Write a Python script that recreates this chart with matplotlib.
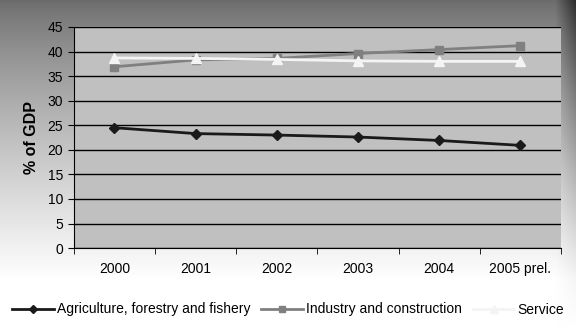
import numpy as np
import matplotlib.pyplot as plt
from matplotlib.ticker import FixedLocator

plt.rcParams['font.family'] = ['Liberation Sans', 'DejaVu Sans']

years = ['2000', '2001', '2002', '2003', '2004', '2005 prel.']
agriculture = [24.5, 23.3, 23.0, 22.6, 21.9, 20.9]
industry = [36.9, 38.3, 38.6, 39.6, 40.4, 41.2]
service = [38.7, 38.6, 38.4, 38.1, 38.0, 38.0]

fig = plt.figure(figsize=(5.76, 3.29), dpi=100)

# background gradient (dark at top, white at bottom, darker right edge)
bg = fig.add_axes([0, 0, 1, 1], zorder=-10)
h, w = 329, 576
yy = np.linspace(0, 1, h)[:, None]
xx = np.linspace(0, 1, w)[None, :]
vert = 0.42 + 0.58 * np.clip(yy / 0.85, 0, 1) ** 0.8
right = np.clip((xx - 0.965) / 0.035, 0, 1) * 0.25 * (1 - yy)
img = np.clip(vert - right, 0, 1)
bg.imshow(np.repeat(img[:, :, None], 3, axis=2), aspect='auto', extent=[0, 1, 0, 1])
bg.axis('off')

ax = fig.add_axes([0.128, 0.246, 0.846, 0.672])
ax.set_facecolor('#c0c0c0')
x = np.arange(len(years))

ax.plot(x, agriculture, color='#1a1a1a', lw=2, marker='D', ms=5.5,
        label='Agriculture, forestry and fishery', zorder=3)
ax.plot(x, industry, color='#808080', lw=2, marker='s', ms=5.5,
        label='Industry and construction', zorder=3)
ax.plot(x, service, color='#f4f4f4', lw=2, marker='^', ms=6.5,
        label='Service', zorder=3)

ax.set_xlim(-0.5, len(years) - 0.5)
ax.set_ylim(0, 45)
ax.set_yticks(np.arange(0, 46, 5))
ax.yaxis.grid(True, color='black', lw=1)
ax.set_axisbelow(True)
ax.set_xticks(x)
ax.set_xticklabels(years, fontsize=10)
ax.tick_params(axis='x', length=0, pad=10)
ax.xaxis.set_minor_locator(FixedLocator(np.arange(-0.5, len(years), 1)))
ax.tick_params(axis='x', which='minor', length=4, direction='out')
ax.tick_params(axis='y', labelsize=10, length=4)
for s in ['top', 'right']:
    ax.spines[s].set_visible(False)
ax.set_ylabel('% of GDP', fontsize=11.5, fontweight='bold', labelpad=6)

fig.legend(loc='lower center', bbox_to_anchor=(0.5, 0.0), ncol=3,
           frameon=False, fontsize=10, handlelength=3, columnspacing=0.8,
           handletextpad=0.2, markerscale=0.8)

fig.savefig('out.png', dpi=100)
